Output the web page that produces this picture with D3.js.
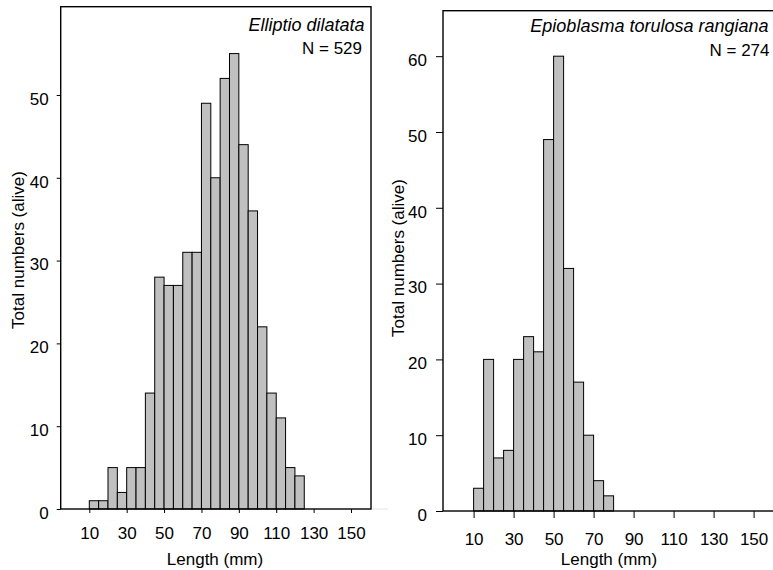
<!DOCTYPE html>
<html><head><meta charset="utf-8">
<script src="https://cdn.jsdelivr.net/npm/d3@7"></script>
<style>
body{margin:0;background:#fff}
svg text{font-family:"Liberation Sans",Arial,sans-serif;fill:#000}
</style>
</head><body>
<svg id="chart" width="773" height="570"></svg>
<script>
// ---- data ----
const xTickValues = [10, 30, 50, 70, 90, 110, 130, 150];
const binWidth = 5;
const lengthDomain = [-5.3, 160.7];

const ellipTitle = "Elliptio dilatata";
const ellipN = "N = 529";
const ellipBinStarts = [10,15,20,25,30,35,40,45,50,55,60,65,70,75,80,85,90,95,100,105,110,115,120];
const ellipCounts   = [1,1,5,2,5,5,14,28,27,27,31,31,49,40,52,55,44,36,22,14,11,5,4];
const ellipYTicks = [0,10,20,30,40,50];
const ellipYMax = 60.66;

const epioTitle = "Epioblasma torulosa rangiana";
const epioN = "N = 274";
const epioBinStarts = [10,15,20,25,30,35,40,45,50,55,60,65,70,75];
const epioCounts   = [3,20,7,8,20,23,21,49,60,32,17,10,4,2];
const epioYTicks = [0,10,20,30,40,50,60];
const epioYMax = 66;

const yLabel = "Total numbers (alive)";
const xLabel = "Length (mm)";

// ---- layout ----
const panels = [
  {bins: ellipBinStarts, counts: ellipCounts, yTicks: ellipYTicks, yMax: ellipYMax,
   title: ellipTitle, n: ellipN,
   xr: [60.7, 371], yr: [509, 6.7], tick: 4, ypad: 8, xLabBase: 538.5,
   titleX: 364.5, titleY: 30.5, nX: 362, nY: 54.3,
   yLabX: 24, yLabY: 250, xLabX: 215, xLabY: 565, fade: true},
  {bins: epioBinStarts, counts: epioCounts, yTicks: epioYTicks, yMax: epioYMax,
   title: epioTitle, n: epioN,
   xr: [443, 775], yr: [511, 10.7], tick: 7, ypad: 9, xLabBase: 545,
   titleX: 768.5, titleY: 32.3, nX: 769.5, nY: 56,
   yLabX: 404, yLabY: 258, xLabX: 609, xLabY: 565, fade: false}
];

const svg = d3.select("#chart");
const FS = 17;

panels.forEach(p => {
  const x = d3.scaleLinear().domain(lengthDomain).range(p.xr);
  const y = d3.scaleLinear().domain([0, p.yMax]).range(p.yr);
  const g = svg.append("g");

  // bars
  g.selectAll("rect.bar").data(p.bins.map((b, i) => ({b, c: p.counts[i]})))
    .join("rect").attr("class", "bar")
    .attr("x", d => x(d.b))
    .attr("width", d => x(d.b + binWidth) - x(d.b))
    .attr("y", d => y(d.c))
    .attr("height", d => y(0) - y(d.c))
    .attr("fill", "#c0c0c0").attr("stroke", "#000").attr("stroke-width", 1);

  // faint continuation of zero line
  if (p.fade) {
    g.append("line").attr("x1", p.xr[1]).attr("x2", p.xr[1] + 17)
      .attr("y1", y(0)).attr("y2", y(0)).attr("stroke", "#e4e4e4").attr("stroke-width", 1);
  }

  // box
  g.append("rect")
    .attr("x", p.xr[0]).attr("y", p.yr[1])
    .attr("width", p.xr[1] - p.xr[0]).attr("height", p.yr[0] - p.yr[1])
    .attr("fill", "none").attr("stroke", "#000").attr("stroke-width", 1.4);

  // y axis
  const ya = g.append("g").attr("transform", `translate(${p.xr[0]},0)`)
    .call(d3.axisLeft(y).tickValues(p.yTicks).tickFormat(d3.format("d"))
      .tickSize(p.tick).tickPadding(p.ypad));
  ya.select(".domain").remove();
  ya.selectAll("line").attr("stroke", "#000").attr("stroke-width", 1);
  ya.selectAll("text").attr("font-size", FS).attr("fill", "#000").attr("dy", "0.55em");
  ya.attr("font-family", null);

  // x axis
  const xa = g.append("g").attr("transform", `translate(0,${p.yr[0]})`)
    .call(d3.axisBottom(x).tickValues(xTickValues).tickFormat(d3.format("d"))
      .tickSize(p.tick));
  xa.select(".domain").remove();
  xa.selectAll("line").attr("stroke", "#000").attr("stroke-width", 1);
  xa.selectAll("text").attr("font-size", FS).attr("fill", "#000")
    .attr("dy", null).attr("y", p.xLabBase - p.yr[0]);
  xa.attr("font-family", null);

  // titles
  g.append("text").attr("x", p.titleX).attr("y", p.titleY)
    .attr("text-anchor", "end").attr("font-style", "italic").attr("font-size", 18)
    .text(p.title);
  g.append("text").attr("x", p.nX).attr("y", p.nY)
    .attr("text-anchor", "end").attr("font-size", FS).text(p.n);

  // axis labels
  g.append("text").attr("transform", `translate(${p.yLabX},${p.yLabY}) rotate(-90)`)
    .attr("text-anchor", "middle").attr("font-size", FS).text(yLabel);
  g.append("text").attr("x", p.xLabX).attr("y", p.xLabY)
    .attr("text-anchor", "middle").attr("font-size", FS).text(xLabel);
});
</script>
</body></html>
